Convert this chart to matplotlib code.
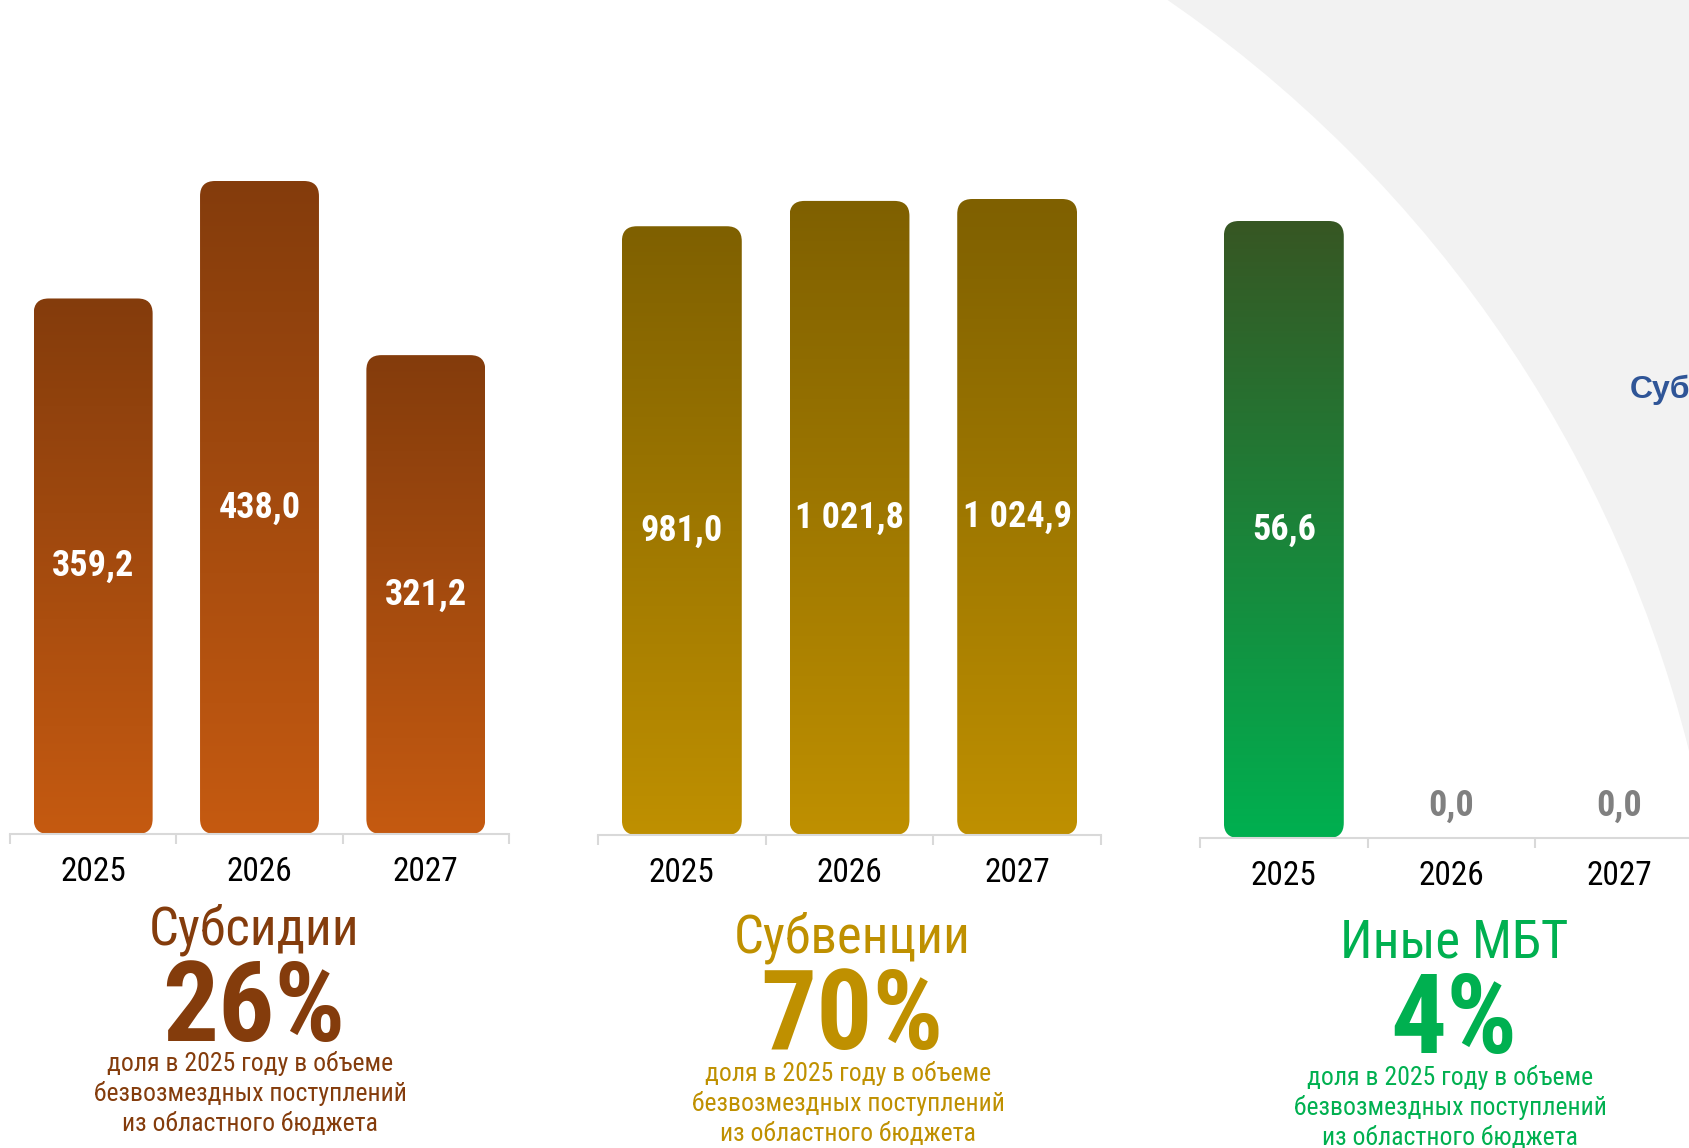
import matplotlib
matplotlib.use("Agg")
import matplotlib.pyplot as plt
import numpy as np
from matplotlib.patches import FancyBboxPatch, Rectangle, Ellipse
from matplotlib.colors import LinearSegmentedColormap
from matplotlib import font_manager

# ---------------- data ----------------
years = ["2025", "2026", "2027"]
subsidies = [359.2, 438.0, 321.2]
subventions = [981.0, 1021.8, 1024.9]
other_mbt = [56.6, 0.0, 0.0]
titles = ["Субсидии", "Субвенции", "Иные МБТ"]
shares = ["26%", "70%", "4%"]
note_lines = ["доля в 2025 году в объеме", "безвозмездных поступлений", "из областного бюджета"]
side_label = "Субсидии"

# ---------------- setup ----------------
W, H, DPI = 1690, 1148, 100
avail = {f.name for f in font_manager.fontManager.ttflist}
NARROW = [f for f in ["Roboto Condensed", "PT Sans Narrow", "Liberation Sans", "DejaVu Sans"] if f in avail]
WIDE = [f for f in ["Liberation Sans", "DejaVu Sans"] if f in avail]
plt.rcParams['font.family'] = NARROW

fig = plt.figure(figsize=(W / DPI, H / DPI), dpi=DPI)
fig.patch.set_facecolor("white")


def fx(x):
    return x / W


def fy(y):
    return 1 - y / H


# decorative grey background with white circular cut
fig.patches.append(Rectangle((0, 0), 1, 1, transform=fig.transFigure,
                             facecolor="#F2F2F2", edgecolor="none", zorder=-20))
cx, cy, R = 434, 1066, 1294
fig.patches.append(Ellipse((fx(cx), fy(cy)), 2 * R / W, 2 * R / H,
                           transform=fig.transFigure, facecolor="white",
                           edgecolor="none", zorder=-19))

fig.text(fx(1630), fy(390), side_label, ha="left", va="center",
         fontsize=23, fontweight="bold", color="#2F5597", family=WIDE)

# panel layout: (values, x_left, x_right, baseline, top_y_of_max, top color, bottom color, text color)
panels = [
    (subsidies, 10, 509, 834, 181, "#843C0C", "#C55A11", "#843C0C"),
    (subventions, 598, 1101, 835, 199, "#7F6000", "#BF9000", "#BF9000"),
    (other_mbt, 1200, 1703, 838, 221, "#375623", "#00B050", "#00B050"),
]
AX_TOP = 90
BAR_W = 0.715
R_PX = 15
# (title baseline, share baseline, first note baseline, text centre x)
text_rows = [(945, 1041, 1071, 254), (953, 1049, 1081, 852), (957, 1053, 1085, 1454)]
NOTE_STEP = 30

grad = np.linspace(0, 1, 256).reshape(-1, 1)

for i, (vals, xl, xr, base, topmax, ctop, cbot, ctext) in enumerate(panels):
    ax_w = xr - xl
    ax_h = base - AX_TOP
    ax = fig.add_axes([fx(xl), fy(base), ax_w / W, ax_h / H])
    ax.patch.set_visible(False)
    vmax = max(vals)
    ypp = (base - topmax) / vmax
    ymax = ax_h / ypp
    xpp = ax_w / 3.0
    x = np.arange(len(vals))
    bars = ax.bar(x, vals, width=BAR_W, color="none", edgecolor="none")
    cmap = LinearSegmentedColormap.from_list(f"g{i}", [cbot, ctop])
    for b, v in zip(bars, vals):
        xc = b.get_x() + b.get_width() / 2
        if v > 0:
            patch = FancyBboxPatch((b.get_x(), 0), b.get_width(), b.get_height(),
                                   boxstyle=f"round,pad=0,rounding_size={R_PX / xpp}",
                                   mutation_aspect=xpp / ypp,
                                   facecolor="none", edgecolor="none")
            ax.add_patch(patch)
            im = ax.imshow(grad, extent=[b.get_x(), b.get_x() + b.get_width(), 0, b.get_height()],
                           origin="lower", aspect="auto", cmap=cmap, interpolation="bilinear",
                           zorder=2)
            im.set_clip_path(patch)
            lbl = f"{v:,.1f}".replace(",", " ").replace(".", ",")
            ax.text(xc, v / 2, lbl, ha="center", va="center", color="white",
                    fontsize=26, fontweight="bold", zorder=3)
        else:
            ax.annotate("0,0", xy=(xc, 0), xytext=(0, 23), textcoords="offset points",
                        ha="center", va="center", color="#808080", fontsize=26,
                        fontweight="bold")
    ax.set_xlim(-0.5, 2.5)
    ax.set_ylim(0, ymax)
    ax.set_xticks(x)
    ax.set_xticklabels(years)
    ax.set_xticks([-0.5, 0.5, 1.5, 2.5], minor=True)
    ax.tick_params(axis="x", which="major", length=0, pad=16, labelsize=24, labelcolor="black")
    ax.tick_params(axis="x", which="minor", length=7.5, width=1.5, color="#D9D9D9", direction="out")
    ax.set_yticks([])
    for s in ["left", "right", "top"]:
        ax.spines[s].set_visible(False)
    ax.spines["bottom"].set_color("#D9D9D9")
    ax.spines["bottom"].set_linewidth(1.5)

    ty, sy, ny, xt = text_rows[i]
    fig.text(fx(xt), fy(ty), titles[i], ha="center", va="baseline",
             fontsize=38, color=ctext)
    fig.text(fx(xt), fy(sy), shares[i], ha="center", va="baseline",
             fontsize=80, fontweight="bold", color=ctext)
    for k, line in enumerate(note_lines):
        fig.text(fx(xt - 4), fy(ny + k * NOTE_STEP), line, ha="center", va="baseline",
                 fontsize=18.5, color=ctext)

fig.savefig("out.png", dpi=DPI)
